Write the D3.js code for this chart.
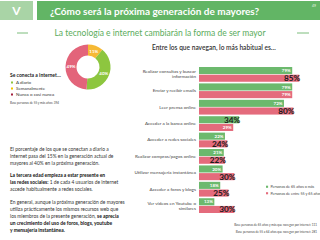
<!DOCTYPE html>
<html>
<head>
<meta charset="utf-8">
<script src="https://cdn.jsdelivr.net/npm/d3@7"></script>
<style>
body { margin: 0; background: #fff; }
svg { display: block; font-family: Lato, "Open Sans", sans-serif; }
</style>
</head>
<body>
<svg width="320" height="240"></svg>
<script>
var width = 320;
var height = 240;

// bar chart data
var activities = [
    ["Realizar consultas y buscar", "información"],
    ["Enviar y recibir emails"],
    ["Leer prensa online"],
    ["Acceder a la banca online"],
    ["Acceder a redes sociales"],
    ["Realizar compras/pagos online"],
    ["Utilizar mensajería instantánea"],
    ["Acceder a foros y blogs"],
    ["Ver vídeos en Youtube o", "similares"]
]
var mayores65 = [79, 79, 72, 34, 22, 21, 20, 18, 13]
var entre5565 = [85, 79, 80, 29, 24, 22, 30, 25, 30]
var seriesNames = ["Personas de 65 años o más", "Personas de entre 55 y 65 años"]

// donut data
var frecuencia = ["Semanalmente", "A diario", "Nunca o casi nunca"]
var frecuenciaValues = [11, 40, 49]
var legendOrder = ["A diario", "Semanalmente", "Nunca o casi nunca"]

var green = "#6cb96d"
var pink = "#e46b7c"

var svg = d3.select("svg")

// ---- header
svg.append("rect").attr("x", 0).attr("y", 1).attr("width", 33).attr("height", 19).attr("fill", "#a9d4a6")
svg.append("text").attr("x", 16.5).attr("y", 15).attr("text-anchor", "middle")
    .attr("fill", "#fff").attr("font-size", 12).attr("font-weight", "bold").text("V")
svg.append("rect").attr("x", 37).attr("y", 1).attr("width", 283).attr("height", 19).attr("fill", "#62b565")
svg.append("text").attr("x", 50).attr("y", 14.5)
    .attr("fill", "#fff").attr("font-size", 10).attr("font-weight", "bold")
    .text("¿Cómo será la próxima generación de mayores?")
svg.append("text").attr("x", 314).attr("y", 7).attr("text-anchor", "middle")
    .attr("fill", "#e8f4e8").attr("font-size", 3.5).text("49")

svg.append("text").attr("x", 160).attr("y", 36).attr("text-anchor", "middle")
    .attr("fill", "#5aac5c").attr("font-size", 8.5)
    .text("La tecnología e internet cambiarán la forma de ser mayor")
svg.append("line").attr("x1", 17).attr("x2", 28).attr("y1", 33).attr("y2", 33).attr("stroke", "#5aac5c").attr("stroke-width", 0.8)
svg.append("line").attr("x1", 297).attr("x2", 309).attr("y1", 33).attr("y2", 33).attr("stroke", "#5aac5c").attr("stroke-width", 0.8)

// ---- donut
var donutColor = d3.scaleOrdinal()
    .domain(["A diario", "Semanalmente", "Nunca o casi nunca"])
    .range(["#8dc63f", "#f6b934", "#e3647a"])
var pie = d3.pie().sort(null).value(function(d, i) { return frecuenciaValues[i] })
var arc = d3.arc().innerRadius(11.5).outerRadius(22.5)
var donut = svg.append("g").attr("transform", "translate(88,67)")
var arcs = pie(frecuencia)
donut.selectAll("path")
    .data(arcs)
    .enter()
    .append("path")
    .attr("d", arc)
    .attr("fill", function(d) { return donutColor(d.data) })
donut.selectAll("text")
    .data(arcs)
    .enter()
    .append("text")
    .attr("transform", function(d) { return "translate(" + arc.centroid(d) + ")" })
    .attr("text-anchor", "middle").attr("dy", 1.5)
    .attr("fill", "#fff").attr("font-size", 4.5).attr("font-weight", "bold")
    .text(function(d) { return d.value + "%" })

var legendColor = { "A diario": "#8dc63f", "Semanalmente": "#f2c500", "Nunca o casi nunca": "#a3203f" }
svg.append("text").attr("x", 10).attr("y", 77).attr("fill", "#222")
    .attr("font-size", 5).attr("font-weight", "bold").text("Se conecta a internet…")
var leg = svg.selectAll(".dleg")
    .data(legendOrder)
    .enter()
    .append("g")
    .attr("transform", function(d, i) { return "translate(11," + (84 + i * 6) + ")" })
leg.append("rect").attr("x", 0).attr("y", -2.5).attr("width", 2).attr("height", 2)
    .attr("fill", function(d) { return legendColor[d] })
leg.append("text").attr("x", 5).attr("y", 0).attr("font-size", 4.5).attr("fill", "#333")
    .text(function(d) { return d })
svg.append("text").attr("x", 10).attr("y", 104).attr("fill", "#444")
    .attr("font-size", 3).text("Base personas de 55 y más años: 394")

// ---- left text
var paragraphs = [
    { y: 151, lines: [
        [["El porcentaje de los que se conectan a diario a", false]],
        [["internet pasa del 15% en la generación actual de", false]],
        [["mayores al 40% en la próxima generación.", false]]
    ]},
    { y: 177, lines: [
        [["La tercera edad empieza a estar presente en", true]],
        [["las redes sociales:", true], [" 1 de cada 4 usuarios de internet", false]],
        [["accede habitualmente a redes sociales.", false]]
    ]},
    { y: 204, lines: [
        [["En general, aunque la próxima generación de mayores", false]],
        [["utiliza prácticamente los mismos recursos web que", false]],
        [["los miembros de la presente generación, ", false], ["se aprecia", true]],
        [["un crecimiento del uso de foros, blogs, youtube", true]],
        [["y mensajería instantánea.", true]]
    ]}
]
paragraphs.forEach(function(p) {
    p.lines.forEach(function(line, i) {
        var t = svg.append("text").attr("x", 10).attr("y", p.y + i * 7)
            .attr("font-size", 4.9).attr("fill", "#333")
        line.forEach(function(part) {
            t.append("tspan").attr("font-weight", part[1] ? "bold" : "normal")
                .attr("fill", part[1] ? "#111" : "#333").text(part[0])
        })
    })
})

// ---- bar chart
svg.append("text").attr("x", 152).attr("y", 50).attr("fill", "#333")
    .attr("font-size", 6.6).attr("font-weight", 600)
    .text("Entre los que navegan, lo más habitual es…")

var x = d3.scaleLinear().domain([0, 100]).range([199, 317])
var y = d3.scaleBand().domain(d3.range(activities.length)).range([67, 213]).paddingInner(0.1).paddingOuter(0)
var ySub = d3.scaleBand().domain([0, 1]).range([0, y.bandwidth()]).paddingInner(0.08)

var rows = svg.selectAll(".row")
    .data(activities)
    .enter()
    .append("g")
    .attr("transform", function(d, i) { return "translate(0," + y(i) + ")" })

rows.append("text")
    .attr("x", 196)
    .attr("y", function(d) { return y.bandwidth() / 2 + 1.5 - (d.length - 1) * 2.5 })
    .attr("text-anchor", "end").attr("font-size", 4.6).attr("fill", "#444")
    .selectAll("tspan")
    .data(function(d) { return d })
    .enter()
    .append("tspan")
    .attr("x", 196)
    .attr("dy", function(d, i) { return i == 0 ? 0 : 5 })
    .text(function(d) { return d })

rows.each(function(d, i) {
    var g = d3.select(this)
    var vals = [mayores65[i], entre5565[i]]
    vals.forEach(function(v, s) {
        var other = vals[1 - s]
        var big = v > other
        g.append("rect")
            .attr("x", x(0))
            .attr("y", ySub(s))
            .attr("width", x(v) - x(0))
            .attr("height", ySub.bandwidth())
            .attr("fill", s == 0 ? green : pink)
        g.append("text")
            .attr("x", big ? x(v) + 1 : x(v) - 1.5)
            .attr("y", ySub(s) + ySub.bandwidth() / 2 + (big ? 3 : 1.6))
            .attr("text-anchor", "end")
            .attr("font-size", big ? 8.2 : 4.5)
            .attr("font-weight", "bold")
            .attr("fill", big ? "#1a1a1a" : "#fff")
            .text(v + "%")
    })
})

// legend
var bleg = svg.selectAll(".bleg")
    .data(seriesNames)
    .enter()
    .append("g")
    .attr("transform", function(d, i) { return "translate(266," + (188 + i * 6.5) + ")" })
bleg.append("rect").attr("x", 0).attr("y", -2.3).attr("width", 2.1).attr("height", 2.1)
    .attr("fill", function(d, i) { return i == 0 ? green : pink })
bleg.append("text").attr("x", 4.5).attr("y", 0).attr("font-size", 3.7).attr("fill", "#444")
    .text(function(d) { return d })

var notes = ["Base personas de 65 años y más que navegan por internet: 111",
             "Base personas de 55 a 64 años que navegan por internet: 281"]
svg.selectAll(".note")
    .data(notes)
    .enter()
    .append("text")
    .attr("x", 317).attr("y", function(d, i) { return 226 + i * 7 })
    .attr("text-anchor", "end").attr("font-size", 3).attr("fill", "#444")
    .text(function(d) { return d })
</script>
</body>
</html>
